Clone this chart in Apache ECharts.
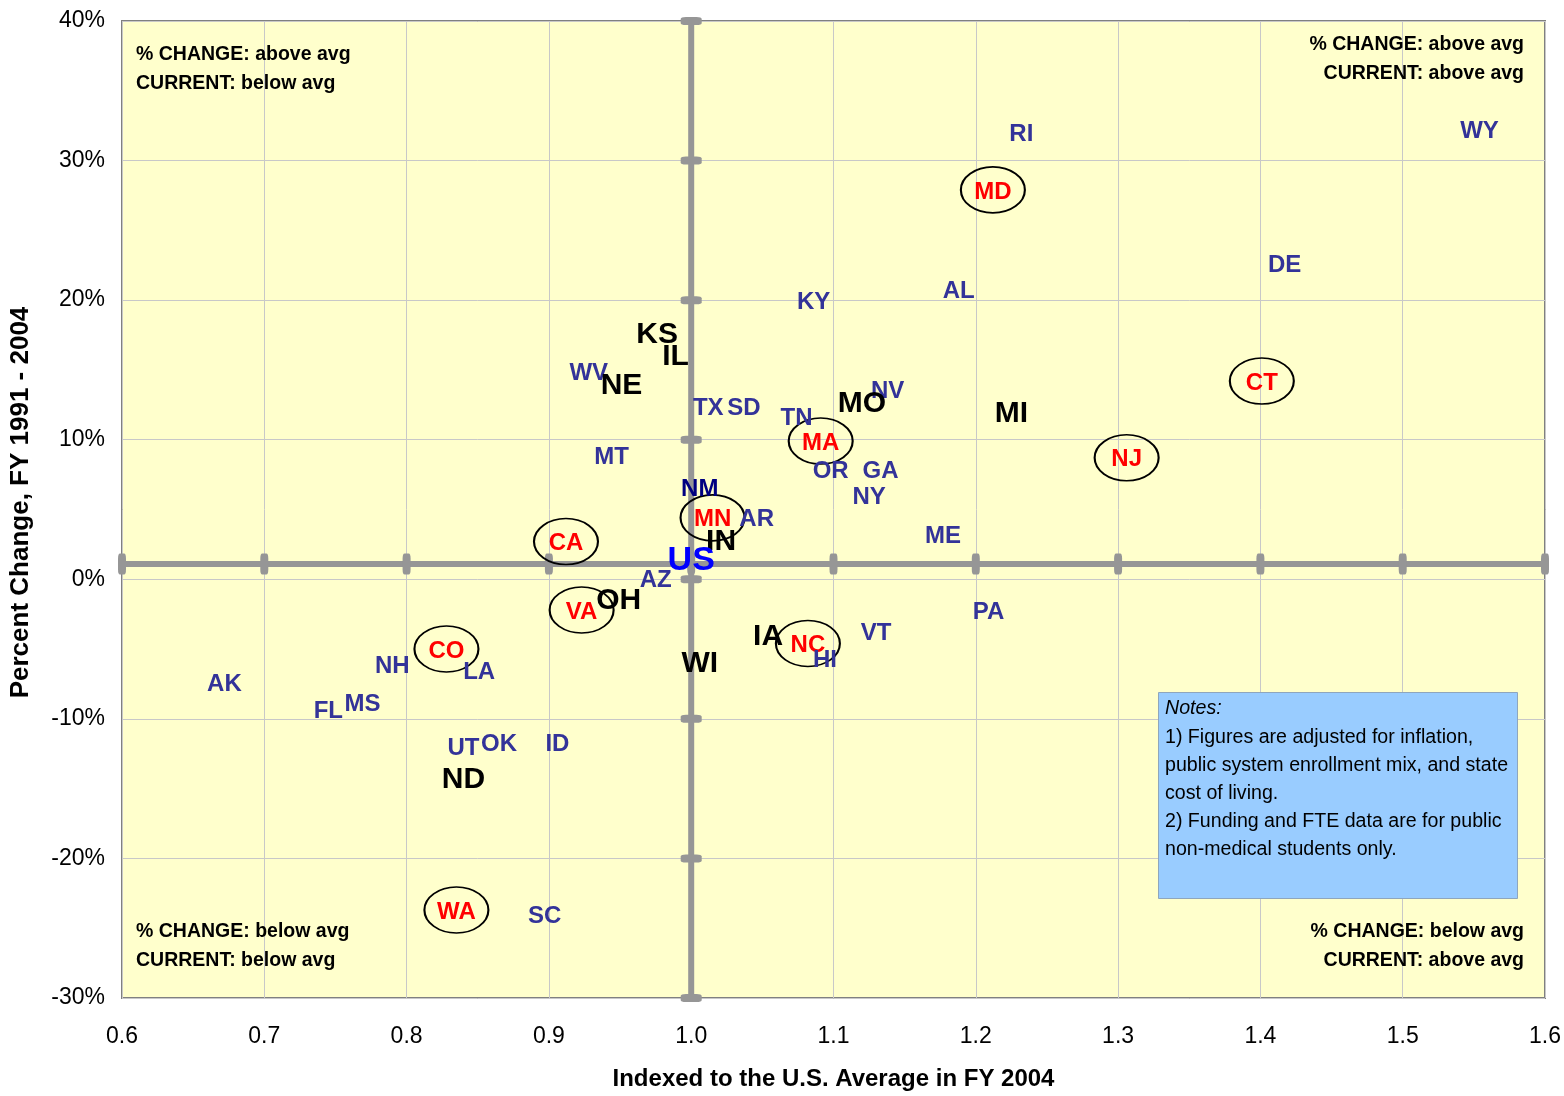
<!DOCTYPE html>
<html>
<head>
<meta charset="utf-8">
<title>State funding per FTE: level vs. change</title>
<script src="https://cdn.jsdelivr.net/npm/echarts@6/dist/echarts.min.js"></script>
<style>
  html, body { margin: 0; padding: 0; background: #ffffff; }
  #chart { width: 1564px; height: 1096px; }
</style>
</head>
<body>
<div id="chart"></div>
<script>
// State abbreviations, FY 2004 index vs. U.S. average, and percent change FY 1991-2004
const states = ['RI','WY','MD','DE','AL','KY','KS','IL','WV','NE',
                'CT','NV','MO','TX','SD','MI','TN','MA','GA','OR',
                'NJ','MT','NY','NM','MN','AR','ME','IN','CA','AZ',
                'OH','VA','PA','VT','IA','NC','CO','HI','NH','WI',
                'LA','AK','MS','FL','UT','OK','ID','ND','WA','SC'];
const indexFY2004 = [1.232,1.554,1.212,1.417,1.188,1.086,0.976,0.989,0.928,0.951,
                     1.401,1.138,1.120,1.012,1.037,1.225,1.074,1.091,1.133,1.098,
                     1.306,0.944,1.125,1.006,1.015,1.046,1.177,1.021,0.912,0.975,
                     0.949,0.923,1.209,1.130,1.054,1.082,0.828,1.094,0.790,1.006,
                     0.851,0.672,0.769,0.745,0.840,0.865,0.906,0.840,0.835,0.897];
const pctChange = [32.0,32.2,27.9,22.6,20.8,20.0,17.7,16.1,14.9,14.0,
                   14.2,13.6,12.7,12.4,12.4,12.0,11.7,9.9,7.9,7.9,
                   8.7,8.9,6.0,6.6,4.4,4.4,3.2,2.8,2.7,0.1,
                   -1.4,-2.2,-2.2,-3.7,-4.0,-4.6,-5.0,-5.7,-6.1,-5.9,
                   -6.5,-7.4,-8.8,-9.3,-12.0,-11.7,-11.7,-14.2,-23.7,-24.0];

// Label groups
const boldStates = ['KS','IL','NE','MO','MI','IN','OH','IA','WI','ND'];
const circledStates = ['MD','CT','MA','NJ','MN','CA','VA','NC','CO','WA'];
const navyStates = ['NM'];

// U.S. average reference point (index, percent change)
const usAverage = [1.0, 1.1];

// Axis ticks
const xTicks = [0.6,0.7,0.8,0.9,1.0,1.1,1.2,1.3,1.4,1.5,1.6];
const yTicks = [-30,-20,-10,0,10,20,30,40];

const quadrantText = [
  ['% CHANGE: above avg', 'CURRENT: below avg'],
  ['% CHANGE: above avg', 'CURRENT: above avg'],
  ['% CHANGE: below avg', 'CURRENT: below avg'],
  ['% CHANGE: below avg', 'CURRENT: above avg']
];
const notesLines = [
  '1) Figures are adjusted for inflation,',
  'public system enrollment mix, and state',
  'cost of living.',
  '2) Funding and FTE data are for public',
  'non-medical students only.'
];

const FONT = 'Arial, "Liberation Sans", sans-serif';
const GRID = { left: 122, right: 19, top: 21, bottom: 94 };

function pointOf(s) {
  const i = states.indexOf(s);
  return [indexFY2004[i], pctChange[i]];
}

function labelStyle(s) {
  if (circledStates.includes(s)) return { color: '#FF0000', fontSize: 24 };
  if (boldStates.includes(s)) return { color: '#000000', fontSize: 30 };
  if (navyStates.includes(s)) return { color: '#000080', fontSize: 24 };
  return { color: '#333399', fontSize: 24 };
}

const stateData = states.map((s, i) => ({
  name: s,
  value: [indexFY2004[i], pctChange[i]],
  label: labelStyle(s)
}));

const crossColor = '#969696';

const graphics = [];
// quadrant captions
const qPos = [
  { x: 136, y: 55, align: 'left' },
  { x: 1524, y: 45, align: 'right' },
  { x: 136, y: 932, align: 'left' },
  { x: 1524, y: 932, align: 'right' }
];
quadrantText.forEach((lines, k) => {
  lines.forEach((t, j) => {
    graphics.push({
      type: 'text', x: qPos[k].x, y: qPos[k].y + j * 29, z: 20,
      style: { text: t, font: 'bold 19.5px ' + FONT, fill: '#000', align: qPos[k].align, verticalAlign: 'middle' }
    });
  });
});
// notes box
graphics.push({
  type: 'rect', left: 1158, top: 692, z: 20,
  shape: { width: 359, height: 206 },
  style: { fill: '#99CCFF', stroke: '#8fa6bd', lineWidth: 1 }
});
graphics.push({
  type: 'text', x: 1165, y: 709, z: 21,
  style: { text: 'Notes:', font: 'italic 19.6px ' + FONT, fill: '#000', verticalAlign: 'middle' }
});
notesLines.forEach((t, j) => {
  graphics.push({
    type: 'text', x: 1165, y: 738 + j * 28, z: 21,
    style: { text: t, font: '19.6px ' + FONT, fill: '#000', verticalAlign: 'middle' }
  });
});

const chart = echarts.init(document.getElementById('chart'), null, { renderer: 'canvas' });
chart.setOption({
  animation: false,
  backgroundColor: '#ffffff',
  textStyle: { fontFamily: FONT },
  grid: Object.assign({ show: true, backgroundColor: '#FFFFCC', borderColor: '#808080', borderWidth: 2 }, GRID),
  xAxis: {
    type: 'value', min: 0.6, max: 1.6, interval: 0.1,
    axisLine: { show: false }, axisTick: { show: false },
    axisLabel: { color: '#000', fontSize: 23, margin: 27, fontFamily: FONT, formatter: v => v.toFixed(1) },
    splitLine: { show: true, lineStyle: { color: '#C8C8C8', width: 1 } },
    name: 'Indexed to the U.S. Average in FY 2004', nameLocation: 'middle', nameGap: 69,
    nameTextStyle: { color: '#000', fontSize: 24, fontWeight: 'bold', fontFamily: FONT }
  },
  yAxis: {
    type: 'value', min: -30, max: 40, interval: 10,
    axisLine: { show: false }, axisTick: { show: false },
    axisLabel: { color: '#000', fontSize: 23, margin: 17, fontFamily: FONT, formatter: '{value}%', padding: [6, 0, 0, 0] },
    splitLine: { show: true, lineStyle: { color: '#C8C8C8', width: 1 } },
    name: 'Percent Change, FY 1991 - 2004', nameLocation: 'middle', nameGap: 88,
    nameTextStyle: { color: '#000', fontSize: 26, fontWeight: 'bold', fontFamily: FONT, padding: [0, 0, 0, 14] }
  },
  graphic: graphics,
  series: [
    {
      // vertical U.S. average line with ticks at each grid step
      type: 'line', silent: true, clip: false, z: 2,
      data: yTicks.map(v => [usAverage[0], v]),
      lineStyle: { color: crossColor, width: 6 },
      symbol: 'roundRect', symbolSize: [21, 8],
      itemStyle: { color: crossColor, opacity: 1 }
    },
    {
      // horizontal U.S. average line
      type: 'line', silent: true, clip: false, z: 2,
      data: xTicks.map(v => [v, usAverage[1]]),
      lineStyle: { color: crossColor, width: 6 },
      symbol: 'roundRect', symbolSize: [8, 21],
      itemStyle: { color: crossColor, opacity: 1 }
    },
    {
      // rings around highlighted states
      type: 'scatter', silent: true, z: 3,
      data: circledStates.map(pointOf),
      symbol: 'circle', symbolSize: [64, 46],
      itemStyle: { color: 'rgba(0,0,0,0)', borderColor: '#000', borderWidth: 1.8, opacity: 1 }
    },
    {
      // state abbreviations drawn at their positions
      type: 'scatter', silent: true, z: 4,
      data: stateData,
      symbolSize: 1,
      itemStyle: { color: 'rgba(0,0,0,0)', opacity: 1 },
      label: {
        show: true, position: 'inside', formatter: '{b}', offset: [0, 2],
        fontWeight: 'bold', fontFamily: FONT
      }
    },
    {
      type: 'scatter', silent: true, z: 5,
      data: [{ name: 'US', value: usAverage }],
      symbolSize: 1,
      itemStyle: { color: 'rgba(0,0,0,0)', opacity: 1 },
      label: {
        show: true, position: 'inside', formatter: '{b}', offset: [0, -3],
        color: '#0000FF', fontSize: 34, fontWeight: 'bold', fontFamily: FONT
      }
    }
  ]
});
</script>
</body>
</html>
